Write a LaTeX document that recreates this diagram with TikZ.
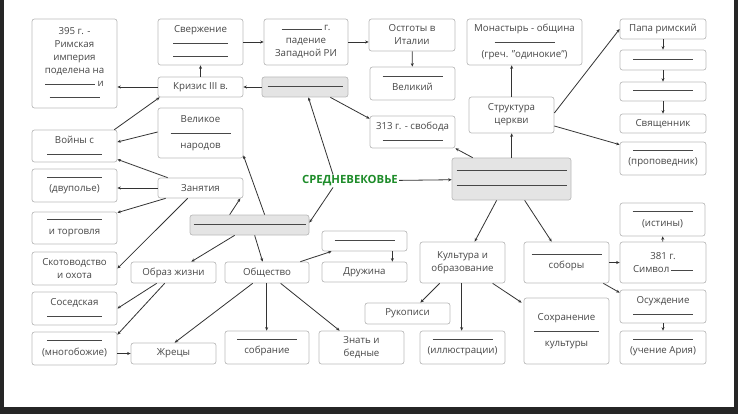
\documentclass[tikz,border=0pt]{standalone}
\usepackage{fontspec}
\setmainfont{Open Sans}
\usetikzlibrary{arrows.meta,calc}
\definecolor{ln}{HTML}{333333}
\definecolor{bd}{HTML}{BBBBBB}
\definecolor{gf}{HTML}{E4E4E4}
\definecolor{gr}{HTML}{1E8C2A}
\newcommand\bl[1]{\rule[0.3ex]{#1pt}{0.5pt}}
\newcommand\bx[6][]{\node[bx,#1,minimum width={(#4-#2)*1pt},minimum height={(#5-#3)*1pt}] (#6) at ({(#2+#4)/2},{(#3+#5)/2})}
\begin{document}
\begin{tikzpicture}[x=1pt,y=-1pt,
 bx/.style={draw=bd,line width=0.7pt,rounded corners=2.5pt,fill=white,align=center,inner sep=0pt,font=\fontsize{9.7}{13}\selectfont,text=black!72},
 gb/.style={fill=gf,draw=bd},
 ar/.style={draw=ln,line width=0.8pt,-{Stealth[length=3.5pt,width=3pt]}}]
\useasboundingbox (0,0) rectangle (738,414);
\fill[black!85] (0,0) rectangle (738,414);
\fill[white] (4,0) rectangle (734,407);
% left column
\bx{32}{19}{117}{108}{p395} {395 г. -\\Римская\\империя\\поделена на\\\bl{50} и\\\bl{50}};
\bx{32}{130}{117}{162}{voy} {Войны с\\\bl{55}};
\bx{32}{169}{117}{202}{dvu} {\bl{55}\\(двуполье)};
\bx{32}{212}{117}{244}{torg} {\bl{55}\\и торговля};
\bx{32}{252}{117}{285}{skot} {Скотоводство\\и охота};
\bx{32}{292}{117}{325}{sos} {Соседская\\\bl{55}};
\bx{32}{332}{117}{365}{mno} {\bl{55}\\(многобожие)};
% second column
\bx{158}{19}{243}{65}{sver} {Свержение\\\bl{55}\\\bl{55}};
\bx{158}{77}{243}{97}{kriz} {Кризис III в.};
\bx{158}{108}{243}{158}{vel} {Великое\\\bl{60}\\народов};
\bx{158}{178}{243}{198}{zan} {Занятия};
\bx[gb]{190}{215}{309}{235}{g2} {\bl{112}};
\bx{131}{262}{216}{283}{obr} {Образ жизни};
\bx{225}{262}{309}{283}{obs} {Общество};
\bx{131}{343}{216}{364}{zhr} {Жрецы};
\bx{225}{331}{309}{364}{sob} {\bl{60}\\собрание};
\bx{319}{331}{404}{364}{zn} {Знать и\\бедные};
\bx{322}{231}{407}{251}{bl1} {\bl{60}};
\bx{322}{262}{407}{282}{dr} {Дружина};
% top middle
\bx{264}{19}{348}{65}{pad} {\bl{40} г.\\падение\\Западной РИ};
\bx[gb]{262}{77}{348}{97}{g1} {\bl{75}};
\bx{369}{19}{455}{51}{ost} {Остготы в\\Италии};
\bx{370}{67}{455}{100}{vlk} {\bl{60}\\Великий};
\bx{370}{116}{455}{148}{s313} {313 г. - свобода\\\bl{60}};
\bx{467}{19}{582}{65}{mon} {Монастырь - община\\\bl{60}\\(греч. "одинокие")};
\bx{469}{97}{554}{133}{str} {Структура\\церкви};
\bx[gb]{452}{158}{571}{200}{g3} {\bl{110}\\[2pt]\bl{110}};
\node[font=\bfseries\fontsize{11.3}{12}\selectfont,text=gr,inner sep=1pt] (sr) at (350,181) {СРЕДНЕВЕКОВЬЕ};
% right column
\bx{620}{19}{706}{39}{papa} {Папа римский};
\bx{620}{50}{706}{70}{b2} {\bl{60}};
\bx{620}{82}{706}{101}{b3} {\bl{60}};
\bx{620}{114}{706}{133}{svya} {Священник};
\bx{620}{142}{706}{175}{prop} {\bl{60}\\(проповедник)};
\bx{620}{203}{705}{236}{ist} {\bl{60}\\(истины)};
\bx{620}{242}{706}{283}{sym} {381 г.\\Символ\,\bl{22}};
\bx{620}{290}{706}{323}{osu} {Осуждение\\\bl{60}};
\bx{620}{331}{706}{364}{ari} {\bl{60}\\(учение Ария)};
% bottom right
\bx{420}{242}{505}{283}{kul} {Культура и\\образование};
\bx{524}{242}{609}{283}{sobo} {\bl{70}\\соборы};
\bx{365}{303}{450}{324}{ruk} {Рукописи};
\bx{420}{331}{505}{364}{ill} {\bl{60}\\(иллюстрации)};
\bx{524}{298}{609}{364}{soh} {Сохранение\\\bl{65}\\культуры};
% arrows
\draw[ar] (kriz.west) -- (kriz.west -| p395.east);
\draw[ar] (kriz) -- (sver);
\draw[ar] (sver) -- (pad);
\draw[ar] (pad) -- (ost.west |- pad);
\draw[ar] (ost) -- (vlk);
\draw[ar] (g1) -- (kriz);
\draw[ar] ($(g1.south east)+(-18,0)$) -- ($(s313.north west)+(0,3)$);
\draw[ar] ($(voy.north east)+(-3,0)$) -- ($(kriz.south west)+(2,0)$);
\draw[ar] ($(vel.west)+(0,-1)$) -- ($(voy.east)+(0,-4)$);
\draw[ar] ($(zan.north west)+(10,0)$) -- ($(voy.south east)+(0,-3)$);
\draw[ar] (zan) -- (zan -| dvu.east);
\draw[ar] ($(zan.south west)+(8,0)$) -- ($(torg.north east)+(0,1)$);
\draw[ar] ($(zan.south west)+(30,0)$) -- (skot.east);
\draw[ar] ($(g2.north west)+(40,0)$) -- ($(zan.south east)+(-3,0)$);
\draw[ar] ($(g2.north west)+(75,0)$) -- ($(vel.south east)+(0,-3)$);
\draw[ar] ($(sr.north)+(-17,0)$) -- ($(g1.south east)+(-40,0)$);
\draw[ar] ($(sr.south)+(-17,0)$) -- ($(g2.north east)+(0,8)$);
\draw[ar] (sr) -- (g3);
\draw[ar] ($(g2.south west)+(45,0)$) -- ($(obr.north east)+(-25,0)$);
\draw[ar] ($(g2.south west)+(65,0)$) -- ($(obs.north west)+(38,0)$);
\draw[ar] ($(obs.north east)+(-9,0)$) -- ($(bl1.south west)+(10,0)$);
\draw[ar] ($(bl1.south east)+(-15,0)$) -- ($(dr.north east)+(-15,0)$);
\draw[ar] ($(obr.south west)+(26,0)$) -- (sos.east);
\draw[ar] ($(obr.south west)+(34,0)$) -- ($(mno.north east)+(0,3)$);
\draw[ar] (mno.east |- zhr) -- (zhr);
\draw[ar] ($(obs.south west)+(28,0)$) -- ($(zhr.north west)+(44,0)$);
\draw[ar] ($(obs.south west)+(42,0)$) -- ($(sob.north west)+(42,0)$);
\draw[ar] ($(obs.south west)+(56,0)$) -- ($(zn.north west)+(21,0)$);
\draw[ar] ($(g3.north west)+(21,0)$) -- (s313.south east);
\draw[ar] ($(g3.north west)+(60,0)$) -- ($(str.south west)+(43,0)$);
\draw[ar] ($(str.north west)+(43,0)$) -- ($(mon.south west)+(45,0)$);
\draw[ar] ($(str.east)+(0,-2)$) -- (papa.west);
\draw[ar] ($(str.east)+(0,11)$) -- ($(prop.north west)+(0,3)$);
\draw[ar] (papa) -- (b2);
\draw[ar] (b2) -- (b3);
\draw[ar] (b3) -- (svya);
\draw[ar] ($(g3.south west)+(45,0)$) -- ($(kul.north west)+(55,0)$);
\draw[ar] ($(g3.south west)+(73,0)$) -- ($(sobo.north west)+(28,0)$);
\draw[ar] ($(kul.south west)+(20,0)$) -- ($(ruk.north east)+(-30,0)$);
\draw[ar] ($(kul.south west)+(42,0)$) -- ($(ill.north west)+(42,0)$);
\draw[ar] ($(kul.south west)+(73,0)$) -- ($(soh.north west)+(-2,5)$);
\draw[ar] (sobo) -- (sym);
\draw[ar] ($(sobo.south east)+(-6,0)$) -- ($(osu.north west)+(0,3)$);
\draw[ar] (sym) -- (ist);
\draw[ar] (osu) -- (ari);
\end{tikzpicture}
\end{document}
